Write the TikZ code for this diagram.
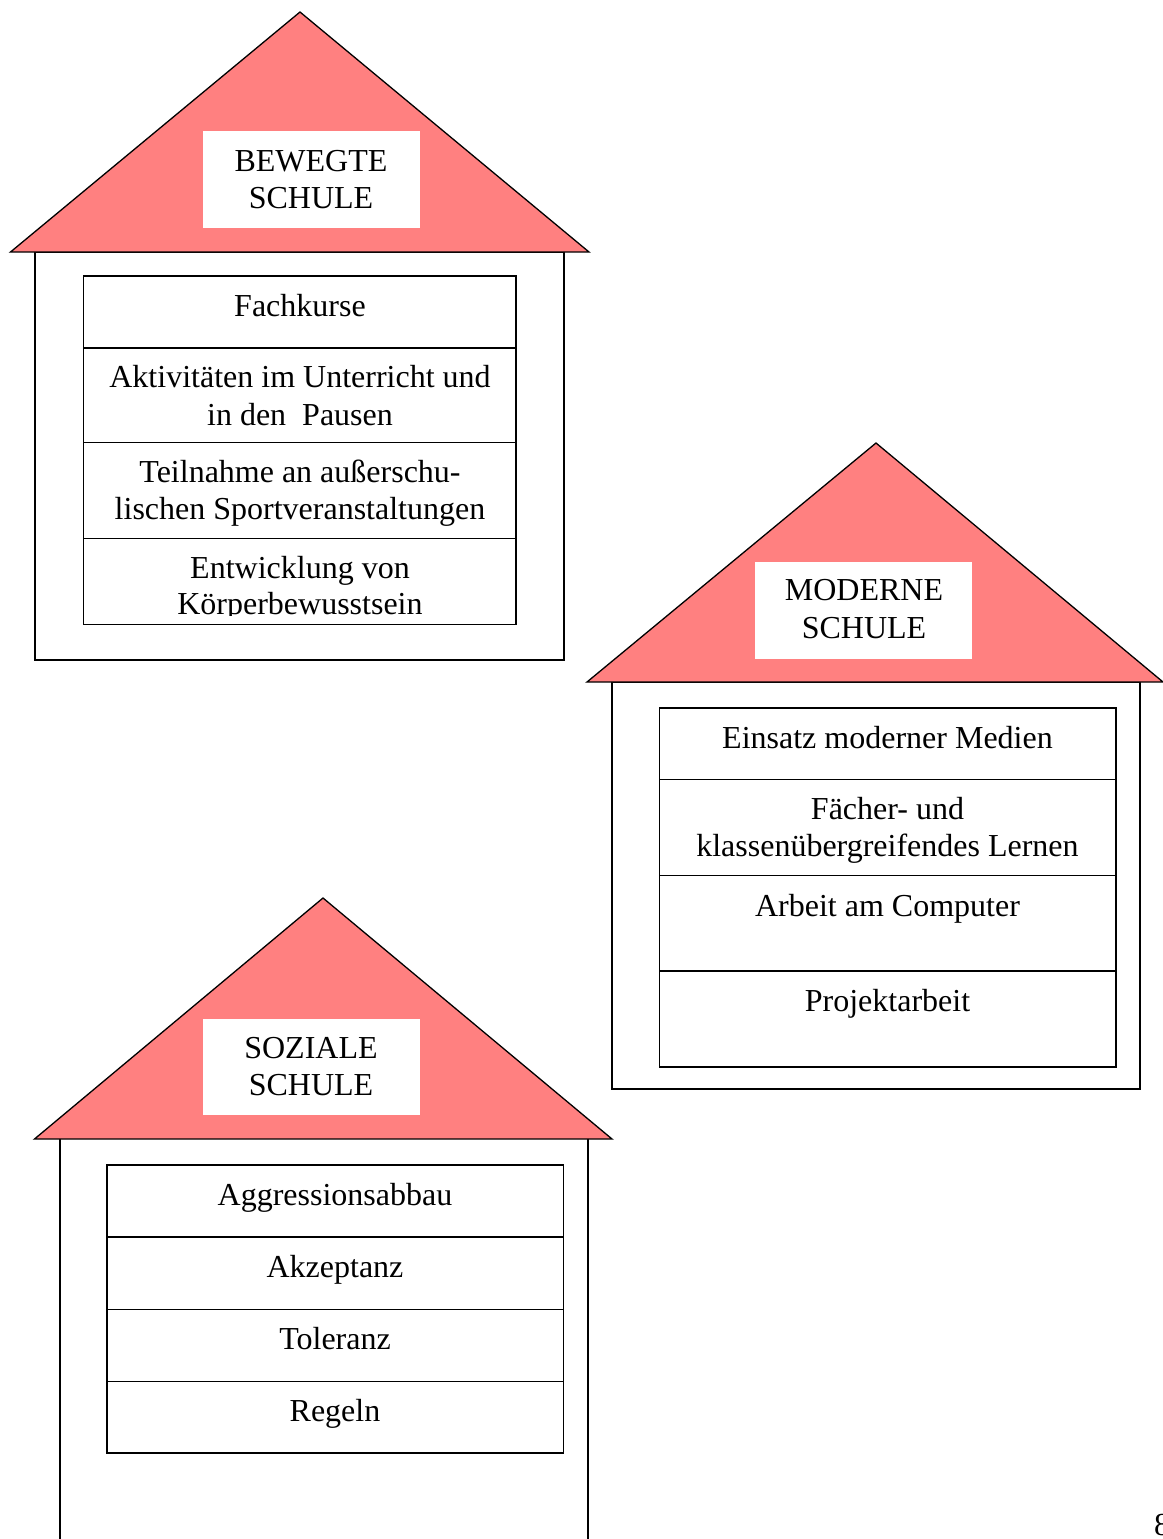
\documentclass[tikz,border=0pt]{standalone}
\usepackage{fontspec}
\setmainfont{Liberation Serif}
\definecolor{roofred}{RGB}{255,128,128}
\tikzset{
  roof/.style={fill=roofred, draw=black, line width=1.3pt, line join=miter},
  wall/.style={draw=black, line width=1.6pt},
  tabbox/.style={draw=black, line width=1.6pt},
  titlebg/.style={fill=white, draw=none},
  lbl/.style={inner sep=0pt, anchor=base, font=\fontsize{32}{37}\selectfont},
}
\begin{document}
\begin{tikzpicture}[x=1pt,y=-1pt]
\useasboundingbox (0,0) rectangle (1162,1539);
\fill[white] (0,0) rectangle (1162,1539);

% ---------- BEWEGTE SCHULE ----------
\draw[wall] (35,252) rectangle (564,660);
\draw[roof] (10.5,252) -- (300,12) -- (589,252) -- cycle;
\fill[titlebg] (203,131) rectangle (420,228);
\node[lbl] (b1) at (311,171) {BEWEGTE};
\node[lbl] (b2) at (311,208) {SCHULE};
\draw[tabbox] (83.5,276) rectangle (516,624.5);
\draw[tabbox] (83.5,348) -- (516,348);
\draw[tabbox] (83.5,442.3) -- (516,442.3);
\draw[tabbox] (83.5,538.6) -- (516,538.6);
\node[lbl] (b3) at (300,316) {Fachkurse};
\node[lbl] (b4) at (300,387) {Aktivitäten im Unterricht und};
\node[lbl] (b5) at (300,425) {in den\ \ Pausen};
\node[lbl] (b6) at (300,482) {Teilnahme an außerschu-};
\node[lbl] (b7) at (300,519) {lischen Sportveranstaltungen};
\node[lbl] (b8) at (300,578) {Entwicklung von};
\begin{scope}
\clip (84,540) rectangle (515,615);
\node[lbl] (b9) at (300,614) {Körperbewusstsein};
\end{scope}

% ---------- MODERNE SCHULE ----------
\draw[wall] (612,682) rectangle (1140,1089);
\draw[roof] (587,682) -- (876,443) -- (1163,682) -- cycle;
\fill[titlebg] (755,562) rectangle (971.5,658.5);
\node[lbl] (m1) at (864,600.5) {MODERNE};
\node[lbl] (m2) at (864,638) {SCHULE};
\draw[tabbox] (659.5,708) rectangle (1115.8,1067);
\draw[tabbox] (659.5,779.5) -- (1115.8,779.5);
\draw[tabbox] (659.5,875.5) -- (1115.8,875.5);
\draw[tabbox] (659.5,971) -- (1115.8,971);
\node[lbl] (m3) at (887.5,748) {Einsatz moderner Medien};
\node[lbl] (m4) at (887.5,819) {Fächer- und};
\node[lbl] (m5) at (887.5,856) {klassenübergreifendes Lernen};
\node[lbl] (m6) at (887.5,916.5) {Arbeit am Computer};
\node[lbl] (m7) at (887.5,1011) {Projektarbeit};

% ---------- SOZIALE SCHULE ----------
\draw[wall] (60,1139) -- (60,1545);
\draw[wall] (588,1139) -- (588,1545);
\draw[roof] (34.5,1139) -- (323,898) -- (612,1139) -- cycle;
\fill[titlebg] (203,1019) rectangle (420,1115);
\node[lbl] (s1) at (311,1058) {SOZIALE};
\node[lbl] (s2) at (311,1095) {SCHULE};
\draw[tabbox] (107,1165) rectangle (563.5,1453);
\draw[tabbox] (107,1237) -- (563.5,1237);
\draw[tabbox] (107,1309.5) -- (563.5,1309.5);
\draw[tabbox] (107,1381.5) -- (563.5,1381.5);
\node[lbl] (s3) at (335,1205.5) {Aggressionsabbau};
\node[lbl] (s4) at (335,1277) {Akzeptanz};
\node[lbl] (s5) at (335,1349) {Toleranz};
\node[lbl] (s6) at (335,1421) {Regeln};

% page number (cut at the page edge, as in the reference)
\node[lbl, anchor=base west] (pg) at (1154,1535) {8};
\end{tikzpicture}
\end{document}
